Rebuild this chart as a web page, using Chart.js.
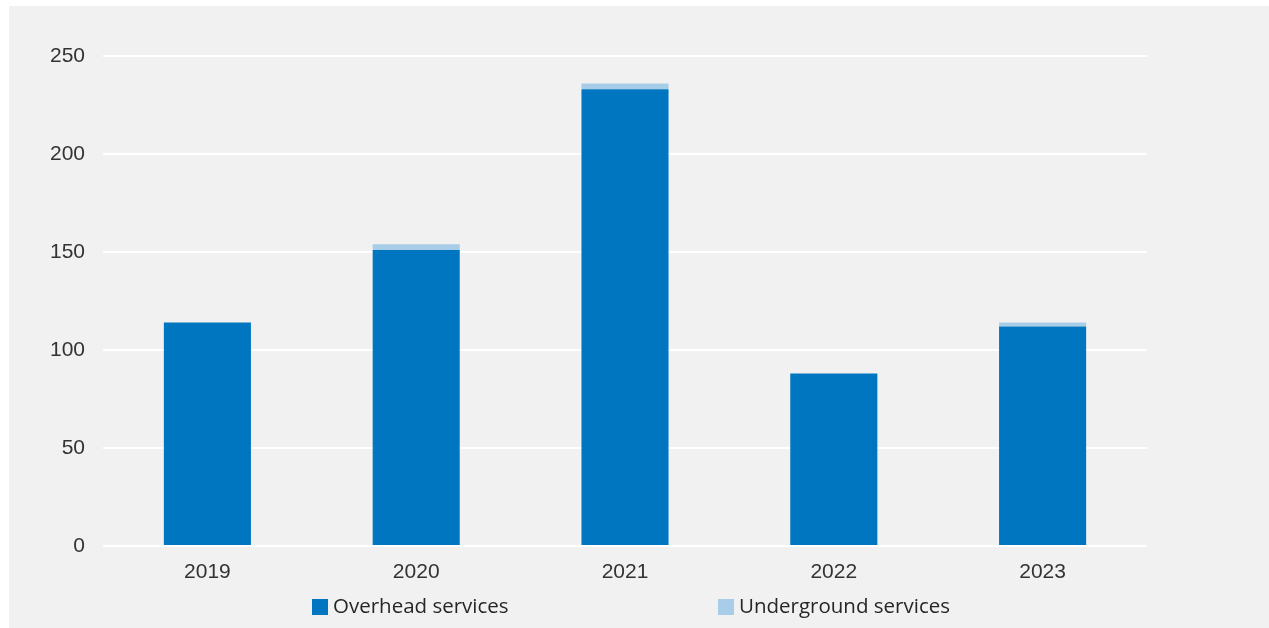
<!DOCTYPE html>
<html>
<head>
    <title>Services by year</title>
    <script src="https://cdn.jsdelivr.net/npm/chart.js"></script>
    <style>
        html, body {
            margin: 0;
            padding: 0;
            background: #ffffff;
        }
        /* gray chart panel, offset like the reference */
        #wrap {
            position: absolute;
            left: 9px;
            top: 6px;
            width: 1260px;
            height: 622px;
            background: #f1f1f1;
        }
    </style>
</head>
<body>

<div id="wrap"><canvas id="myChart"></canvas></div>

<script>
    // Data
    const years = ['2019', '2020', '2021', '2022', '2023'];
    const overhead = [114, 151, 233, 88, 112];
    const underground = [0, 3, 3, 0, 2];
    const yTicks = [0, 50, 100, 150, 200, 250];

    const darkBlue = '#0076c0';
    const lightBlue = '#a7cde9';

    // Legend drawn by hand so the two items sit wide apart like the original
    const wideLegend = {
        id: 'wideLegend',
        afterDraw(chart) {
            const ctx = chart.ctx;
            const area = chart.chartArea;
            const y = 601;
            const items = chart.data.datasets.map(function(ds, i) {
                return { text: ds.label, color: ds.backgroundColor, x: area.left + 209 + i * 406 };
            });
            ctx.save();
            ctx.font = '20.5px "Open Sans", sans-serif';
            ctx.textBaseline = 'middle';
            items.forEach(function(it) {
                ctx.fillStyle = it.color;
                ctx.fillRect(it.x, y - 8, 16, 16);
                ctx.fillStyle = '#262626';
                ctx.fillText(it.text, it.x + 21, y);
            });
            ctx.restore();
        }
    };

    const data = {
        labels: years,
        datasets: [
            {
                label: 'Overhead services',
                data: overhead,
                backgroundColor: darkBlue,
                borderWidth: 0
            },
            {
                label: 'Underground services',
                data: underground,
                backgroundColor: lightBlue,
                borderWidth: 0
            }
        ]
    };

    const config = {
        type: 'bar',
        data: data,
        options: {
            responsive: false,
            animation: false,
            datasets: {
                bar: {
                    categoryPercentage: 1.0,
                    barPercentage: 0.417
                }
            },
            layout: {
                padding: { left: 20, right: 122, top: 50, bottom: 42 }
            },
            scales: {
                x: {
                    stacked: true,
                    grid: { display: false, drawTicks: false },
                    border: { display: false },
                    ticks: {
                        color: '#333333',
                        padding: 14,
                        font: { family: '"Liberation Sans", Arial, sans-serif', size: 21 }
                    },
                    afterFit: function(scale) { scale.height = 40; }
                },
                y: {
                    stacked: true,
                    min: 0,
                    max: 250,
                    afterBuildTicks: function(scale) {
                        scale.ticks = yTicks.map(function(v) { return { value: v }; });
                    },
                    grid: { color: '#ffffff', lineWidth: 2, drawTicks: false },
                    border: { display: false },
                    ticks: {
                        color: '#333333',
                        padding: 18,
                        font: { family: '"Liberation Sans", Arial, sans-serif', size: 21 }
                    },
                    afterFit: function(scale) { scale.width = 74; }
                }
            },
            plugins: {
                legend: { display: false },
                tooltip: { enabled: false }
            }
        },
        plugins: [wideLegend]
    };

    window.onload = function() {
        const canvas = document.getElementById('myChart');
        canvas.width = 1260;
        canvas.height = 622;
        new Chart(canvas.getContext('2d'), config);
    };
</script>

</body>
</html>
